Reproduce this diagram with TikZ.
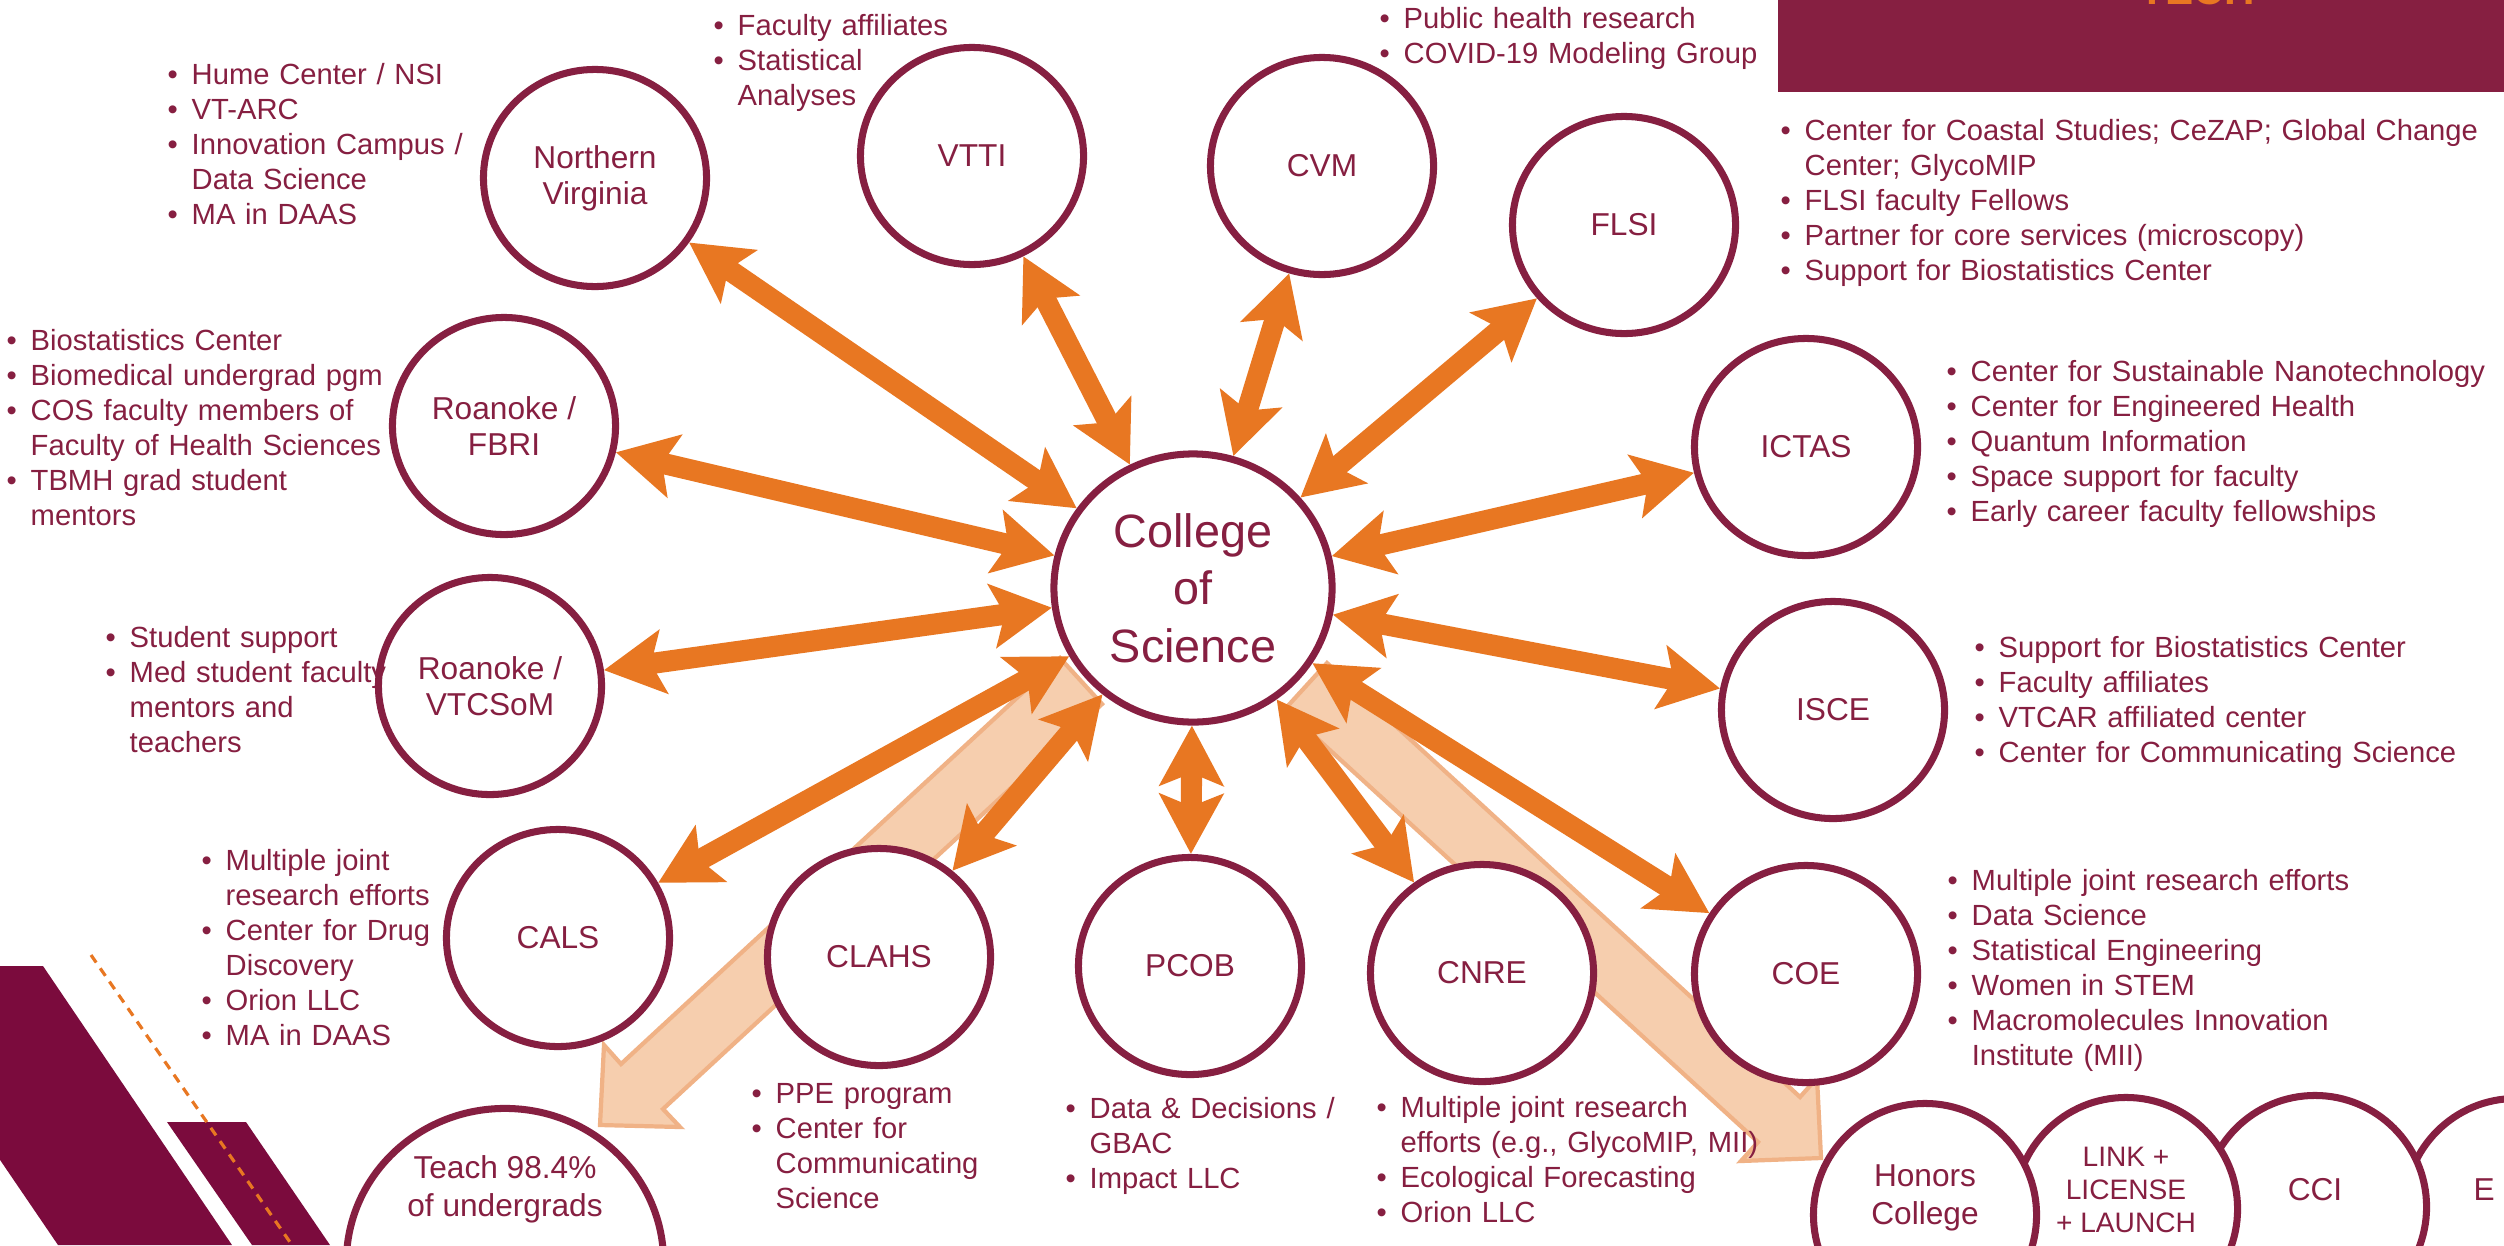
\documentclass[tikz,border=0pt]{standalone}
\usepackage{fontspec}
\setmainfont{Liberation Sans}
\usetikzlibrary{arrows.meta,shapes.geometric}
\definecolor{vtmaroon}{HTML}{861F41}
\definecolor{vtdeep}{HTML}{7B0B3D}
\definecolor{vtorange}{HTML}{E87722}
\definecolor{peachfill}{HTML}{F6CEAE}
\definecolor{peachedge}{HTML}{F0B286}
\newcommand{\bul}[1]{\hangindent=0.24cm\hangafter=1\noindent\makebox[0.24cm][l]{\textbullet}#1\par}

\begin{document}
\begin{tikzpicture}[x=0.01cm, y=-0.01cm,
    unit/.style={ellipse, draw=vtmaroon, line width=2pt, fill=white, minimum width=2.23cm, minimum height=2.17cm, inner sep=0pt, text=vtmaroon, align=center, font=\fontsize{9}{10.25}\selectfont},
    hub/.style={unit, minimum width=2.78cm, minimum height=2.68cm, font=\fontsize{13.3}{16.4}\selectfont},
    inlabel/.style={text=vtmaroon, align=center, font=\fontsize{9}{10.8}\selectfont},
    link/.style={vtorange, line width=6pt, {Stealth[length=17pt,width=18pt,inset=3.5pt]}-{Stealth[length=17pt,width=18pt,inset=3.5pt]}},
    notes/.style={anchor=base west, inner sep=0pt, text=vtmaroon, text width=7.5cm, align=left, font=\fontsize{8.3}{9.96}\selectfont},
    bigarrow/.style={fill=peachfill, draw=peachedge, line width=1.2pt, line join=miter}]
        \useasboundingbox (0,0) rectangle (2504,1245);
        \clip (0,0) rectangle (2504,1245);
        \fill[white] (0,0) rectangle (2504,1245);
        \fill[vtdeep] (-132,966) -- (43,966) -- (232,1245) -- (58,1245) -- cycle;
        \fill[vtdeep] (167,1122) -- (246,1122) -- (330,1245) -- (252,1245) -- cycle;
        \draw[vtorange, line width=0.9pt, dash pattern=on 2.6pt off 2pt] (91,955) -- (292,1245);
        \fill[vtmaroon] (1778,0) rectangle (2504,92);
        \node[anchor=base west, inner sep=0pt, text=vtorange, font=\bfseries\fontsize{12}{12}\selectfont] (logo) at (2139,4) {TECH};
        \draw[bigarrow] (1060,658) -- (621,1064) -- (604,1045) -- (600,1125) -- (680,1127) -- (663,1109) -- (1102,704) -- cycle;
        \draw[bigarrow] (1327,663) -- (1800,1097) -- (1817,1078) -- (1821,1158) -- (1741,1161) -- (1758,1142) -- (1285,709) -- cycle;
        \node[hub] (cos) at (1193,588) {College\\of\\Science};
        \node[unit] (nv) at (595,178) {Northern\\Virginia};
        \node[unit] (fbri) at (504,426) {Roanoke /\\FBRI};
        \node[unit] (vttc) at (490,686) {Roanoke /\\VTCSoM};
        \node[unit] (vtti) at (972,156) {VTTI};
        \node[unit] (cvm) at (1322,166) {CVM};
        \node[unit] (flsi) at (1624,225) {FLSI};
        \node[unit] (ictas) at (1806,447) {ICTAS};
        \node[unit] (isce) at (1833,710) {ISCE};
        \node[unit] (cals) at (558,938) {CALS};
        \node[unit] (clahs) at (879,957) {CLAHS};
        \node[unit] (pcob) at (1190,966) {PCOB};
        \node[unit] (cnre) at (1482,973) {CNRE};
        \node[unit] (coe) at (1806,974) {COE};
        \node[unit, minimum width=3.17cm, minimum height=3.07cm, label={[inlabel, yshift=0.73cm]center:Teach 98.4\%\\of undergrads}] (teach) at (505,1262) {};
        \node[unit, minimum height=2.23cm] (extra) at (2516,1210) {};
        \node[anchor=west, inner sep=0pt, text=vtmaroon, font=\fontsize{9}{10.8}\selectfont] (extratxt) at (2473,1190) {E};
        \node[unit, minimum height=2.23cm, label={[inlabel, yshift=0.17cm]center:CCI}] (cci) at (2315,1207) {};
        \node[unit, minimum height=2.23cm, label={[inlabel, font=\fontsize{8}{9.4}\selectfont, yshift=0.19cm]center:LINK +\\LICENSE\\+ LAUNCH}] (link) at (2126,1209) {};
        \node[unit, minimum height=2.23cm, label={[inlabel, yshift=0.175cm]center:Honors\\College}] (honors) at (1925,1215) {};
        \draw[link] (cos) to (nv);
        \draw[link] (cos) to (fbri);
        \draw[link] (cos) to (vttc);
        \draw[link] (cos) to (vtti);
        \draw[link] (cos) to (cvm);
        \draw[link] (cos) to (flsi);
        \draw[link] (cos) to (ictas);
        \draw[link] (cos) to (isce);
        \draw[link] (cos) to (cals);
        \draw[link] (cos) to (clahs);
        \draw[link] (cos) to (pcob);
        \draw[link] (cos) to (cnre);
        \draw[link] (cos) to (coe);
        \node[notes] (nvnotes) at (167,84) {\bul{Hume Center / NSI}\bul{VT-ARC}\bul{Innovation Campus /\newline Data Science}\bul{MA in DAAS}};
        \node[notes] (fbrinotes) at (6,350) {\bul{Biostatistics Center}\bul{Biomedical undergrad pgm}\bul{COS faculty members of\newline Faculty of Health Sciences}\bul{TBMH grad student\newline mentors}};
        \node[notes] (vttcnotes) at (105,647) {\bul{Student support}\bul{Med student faculty\newline mentors and\newline teachers}};
        \node[notes] (vttinotes) at (713,35) {\bul{Faculty affiliates}\bul{Statistical\newline Analyses}};
        \node[notes] (cvmnotes) at (1379,28) {\bul{Public health research}\bul{COVID-19 Modeling Group}};
        \node[notes] (flsinotes) at (1780,140) {\bul{Center for Coastal Studies; CeZAP; Global Change\newline Center; GlycoMIP}\bul{FLSI faculty Fellows}\bul{Partner for core services (microscopy)}\bul{Support for Biostatistics Center}};
        \node[notes] (ictasnotes) at (1946,381) {\bul{Center for Sustainable Nanotechnology}\bul{Center for Engineered Health}\bul{Quantum Information}\bul{Space support for faculty}\bul{Early career faculty fellowships}};
        \node[notes] (iscenotes) at (1974,657) {\bul{Support for Biostatistics Center}\bul{Faculty affiliates}\bul{VTCAR affiliated center}\bul{Center for Communicating Science}};
        \node[notes] (calsnotes) at (201,870) {\bul{Multiple joint\newline research efforts}\bul{Center for Drug\newline Discovery}\bul{Orion LLC}\bul{MA in DAAS}};
        \node[notes] (clahsnotes) at (751,1103) {\bul{PPE program}\bul{Center for\newline Communicating\newline Science}};
        \node[notes] (pcobnotes) at (1065,1118) {\bul{Data \& Decisions /\newline GBAC}\bul{Impact LLC}};
        \node[notes] (cnrenotes) at (1376,1117) {\bul{Multiple joint research\newline efforts (e.g., GlycoMIP, MII)}\bul{Ecological Forecasting}\bul{Orion LLC}};
        \node[notes] (coenotes) at (1947,890) {\bul{Multiple joint research efforts}\bul{Data Science}\bul{Statistical Engineering}\bul{Women in STEM}\bul{Macromolecules Innovation\newline Institute (MII)}};
\end{tikzpicture}
\end{document}
